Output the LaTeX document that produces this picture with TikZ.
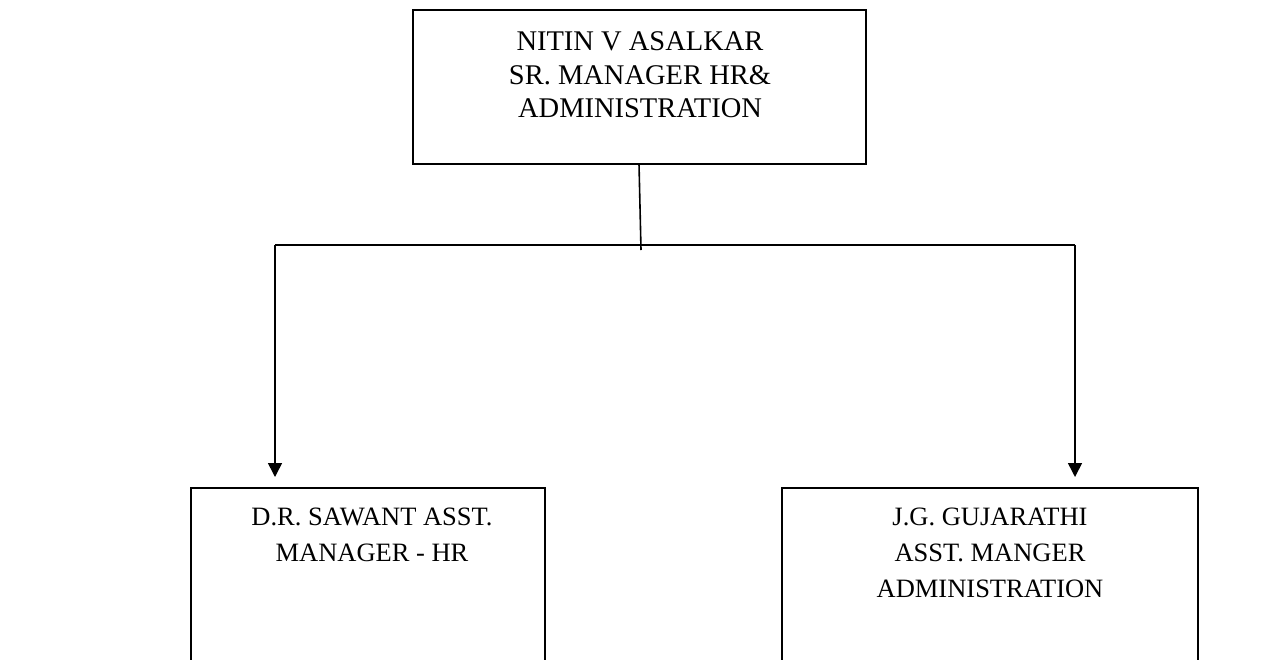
\documentclass[tikz,border=0pt]{standalone}
\usepackage{fontspec}
\setmainfont{Liberation Serif}
\usetikzlibrary{arrows.meta}
\begin{document}
\begin{tikzpicture}[x=1pt,y=-1pt,
  box/.style={draw=black,line width=2pt,fill=white},
  boxb/.style={box,line width=2.6pt},
  lbl/.style={align=center,font=\fontsize{28.5}{33.5}\selectfont,anchor=north},
  lblb/.style={lbl,font=\fontsize{26.5}{36}\selectfont},
  conn/.style={draw=black,line width=1.6pt},
  arr/.style={conn,-{Triangle[length=14pt,width=14pt]}}]
\useasboundingbox (0,0) rectangle (1265,659);
\fill[white] (0,0) rectangle (1265,659);
% top box
\draw[box] (413,10) rectangle (866,164);
\node[lbl] (top) at (640,28.5) {NITIN V ASALKAR\\SR. MANAGER HR\&\\ADMINISTRATION};
\coordinate (tb) at (639,164);
\coordinate (mid) at (641,250);
\coordinate (lc) at (275,245);
\coordinate (rc) at (1075,245);
\coordinate (la) at (275,477);
\coordinate (ra) at (1075,477);
\draw[conn] (tb) -- (mid);
\draw[conn] (lc) -- (rc);
\draw[arr] (lc) -- (la);
\draw[arr] (rc) -- (ra);
% bottom boxes (open at bottom)
\draw[boxb] (191,665) -- (191,488) -- (545,488) -- (545,665);
\node[lblb] (left) at (372,504) {D.R. SAWANT ASST.\\MANAGER - HR};
\draw[boxb] (782,665) -- (782,488) -- (1198,488) -- (1198,665);
\node[lblb] (right) at (990,504) {J.G. GUJARATHI\\ASST. MANGER\\ADMINISTRATION};
\end{tikzpicture}
\end{document}
